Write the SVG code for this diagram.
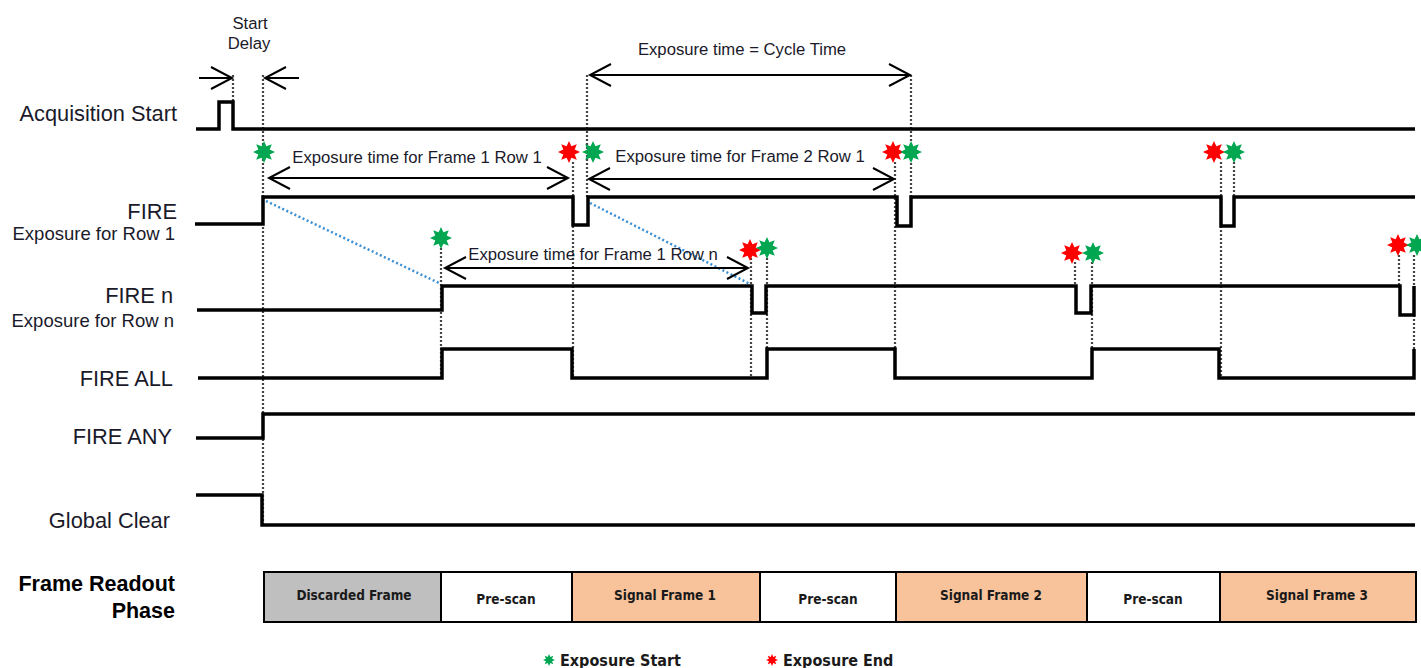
<svg xmlns="http://www.w3.org/2000/svg" width="1421" height="668" viewBox="0 0 1421 668">
<style>
.bg{fill:#ffffff}
.wave{fill:none;stroke:#000;stroke-width:3.5;stroke-linejoin:miter}
.dot{fill:none;stroke:#444;stroke-width:2.2;stroke-dasharray:2 2}
.blue{fill:none;stroke:#3a8fd4;stroke-width:2.5;stroke-dasharray:2 2.5}
.arr{fill:none;stroke:#000;stroke-width:2}
.lbl{font-family:"Liberation Sans",Arial,sans-serif;font-size:21.8px;fill:#1a1a2a}
.sub{font-family:"Liberation Sans",Arial,sans-serif;font-size:18.5px;fill:#1a1a2a}
.note{font-family:"Liberation Sans",Arial,sans-serif;font-size:16.7px;fill:#1a1a2a}
.bold{font-family:"Liberation Sans",Arial,sans-serif;font-size:21.5px;font-weight:bold;fill:#000}
.cell{stroke:#000;stroke-width:2}
.ct{font-family:"DejaVu Sans Condensed","DejaVu Sans",sans-serif;font-stretch:condensed;font-size:13.5px;font-weight:bold;fill:#1a1a1a;text-anchor:middle}
.leg{font-family:"DejaVu Sans Condensed","DejaVu Sans",sans-serif;font-stretch:condensed;font-size:16px;font-weight:bold;fill:#1a1a1a}
.g{fill:#00a650}
.r{fill:#ff0000}
</style>
<defs>
<marker id="ah" markerUnits="userSpaceOnUse" viewBox="-24 -14 26 28" markerWidth="26" markerHeight="28" refX="0" refY="0" orient="auto-start-reverse" overflow="visible">
<path d="M-21,-11 L0,0 L-21,11" fill="none" stroke="#000" stroke-width="2"/>
</marker>
<polygon id="star" points="0,-11 2.4,-5.7 7.8,-7.8 5.7,-2.4 11,0 5.7,2.4 7.8,7.8 2.4,5.7 0,11 -2.4,5.7 -7.8,7.8 -5.7,2.4 -11,0 -5.7,-2.4 -7.8,-7.8 -2.4,-5.7"/>
<polygon id="starS" points="0,-6 1.3,-3.1 4.2,-4.2 3.1,-1.3 6,0 3.1,1.3 4.2,4.2 1.3,3.1 0,6 -1.3,3.1 -4.2,4.2 -3.1,1.3 -6,0 -3.1,-1.3 -4.2,-4.2 -1.3,-3.1"/>
</defs>
<rect class="bg" x="0" y="0" width="1421" height="668"/>

<g id="labels">
<text class="note" x="250" y="29" text-anchor="middle" font-size="15.5">Start</text>
<text class="note" x="249" y="49" text-anchor="middle" font-size="15.5">Delay</text>
<text class="lbl" x="177" y="121" text-anchor="end">Acquisition Start</text>
<text class="lbl" x="177" y="219" text-anchor="end">FIRE</text>
<text class="sub" x="175" y="240" text-anchor="end">Exposure for Row 1</text>
<text class="lbl" x="173" y="303" text-anchor="end">FIRE n</text>
<text class="sub" x="174" y="327" text-anchor="end">Exposure for Row n</text>
<text class="lbl" x="173" y="386" text-anchor="end">FIRE ALL</text>
<text class="lbl" x="172" y="444" text-anchor="end">FIRE ANY</text>
<text class="lbl" x="170" y="528" text-anchor="end">Global Clear</text>
<text class="bold" x="175" y="591" text-anchor="end">Frame Readout</text>
<text class="bold" x="175" y="618" text-anchor="end">Phase</text>
</g>

<g id="connectors">
<line class="dot" x1="233" y1="75" x2="233" y2="102"/>
<line class="dot" x1="263" y1="75" x2="263" y2="525"/>
<line class="dot" x1="441" y1="248" x2="441" y2="378"/>
<line class="dot" x1="573" y1="162" x2="573" y2="378"/>
<line class="dot" x1="587" y1="75" x2="587" y2="197"/>
<line class="dot" x1="751" y1="258" x2="751" y2="378"/>
<line class="dot" x1="767" y1="258" x2="767" y2="349"/>
<line class="dot" x1="895" y1="162" x2="895" y2="378"/>
<line class="dot" x1="911" y1="75" x2="911" y2="197"/>
<line class="dot" x1="1075" y1="262" x2="1075" y2="286"/>
<line class="dot" x1="1092" y1="262" x2="1092" y2="349"/>
<line class="dot" x1="1221" y1="162" x2="1221" y2="378"/>
<line class="dot" x1="1234" y1="162" x2="1234" y2="197"/>
<line class="dot" x1="1399" y1="255" x2="1399" y2="286"/>
<line class="dot" x1="1414" y1="255" x2="1414" y2="349"/>
<line class="blue" x1="266" y1="201" x2="441" y2="284"/>
<line class="blue" x1="590" y1="203" x2="750" y2="284"/>
<line class="arr" x1="199" y1="78" x2="232" y2="78" marker-end="url(#ah)"/>
<line class="arr" x1="299" y1="78" x2="265" y2="78" marker-end="url(#ah)"/>
<line class="arr" x1="590" y1="75" x2="910" y2="75" marker-start="url(#ah)" marker-end="url(#ah)"/>
<line class="arr" x1="269" y1="178" x2="568" y2="178" marker-start="url(#ah)" marker-end="url(#ah)"/>
<line class="arr" x1="589" y1="179" x2="894" y2="179" marker-start="url(#ah)" marker-end="url(#ah)"/>
<line class="arr" x1="445" y1="268" x2="748" y2="268" marker-start="url(#ah)" marker-end="url(#ah)"/>
<text class="note" x="742" y="55" text-anchor="middle">Exposure time = Cycle Time</text>
<text class="note" x="417" y="163" text-anchor="middle">Exposure time for Frame 1 Row 1</text>
<text class="note" x="740" y="162" text-anchor="middle">Exposure time for Frame 2 Row 1</text>
<text class="note" x="593" y="260" text-anchor="middle">Exposure time for Frame 1 Row n</text>
</g>

<g id="waveforms">
<path id="acq" class="wave" d="M196,129 H219 V102 H233 V129 H1415"/>
<path id="fire" class="wave" d="M195,224 H263 V197 H573 V225 H588 V197 H897 V226 H911 V197 H1221 V226 H1234 V197 H1415"/>
<path id="firen" class="wave" d="M197,310 H442 V286 H752 V313 H766 V286 H1076 V313 H1091 V286 H1400 V315 H1414 V286"/>
<path id="fireall" class="wave" d="M198,378 H442 V349 H572 V378 H767 V349 H895 V378 H1092 V349 H1219 V378 H1414 V349"/>
<path id="fireany" class="wave" d="M196,438 H263 V414 H1415"/>
<path id="gclear" class="wave" d="M196,495 H262 V525 H1415"/>
</g>

<g id="stars">
<use href="#star" class="g" x="264" y="152"/>
<use href="#star" class="r" x="569" y="152"/>
<use href="#star" class="g" x="593" y="152"/>
<use href="#star" class="r" x="893" y="152"/>
<use href="#star" class="g" x="911" y="152"/>
<use href="#star" class="r" x="1214" y="152"/>
<use href="#star" class="g" x="1234" y="152"/>
<use href="#star" class="g" x="441" y="238"/>
<use href="#star" class="r" x="750" y="250"/>
<use href="#star" class="g" x="767" y="248"/>
<use href="#star" class="r" x="1072" y="253"/>
<use href="#star" class="g" x="1093" y="253"/>
<use href="#star" class="r" x="1398" y="245"/>
<use href="#star" class="g" x="1417" y="245"/>
</g>

<g id="readout">
<rect class="cell" x="264" y="572" width="177" height="50" fill="#bfbfbf"/>
<rect class="cell" x="441" y="572" width="131" height="50" fill="#ffffff"/>
<rect class="cell" x="572" y="572" width="188" height="50" fill="#f8c39a"/>
<rect class="cell" x="760" y="572" width="136" height="50" fill="#ffffff"/>
<rect class="cell" x="896" y="572" width="191" height="50" fill="#f8c39a"/>
<rect class="cell" x="1087" y="572" width="133" height="50" fill="#ffffff"/>
<rect class="cell" x="1220" y="572" width="196" height="50" fill="#f8c39a"/>
<text class="ct" x="354" y="600">Discarded Frame</text>
<text class="ct" x="506" y="604">Pre-scan</text>
<text class="ct" x="665" y="600">Signal Frame 1</text>
<text class="ct" x="828" y="604">Pre-scan</text>
<text class="ct" x="991" y="600">Signal Frame 2</text>
<text class="ct" x="1153" y="604">Pre-scan</text>
<text class="ct" x="1317" y="600">Signal Frame 3</text>
</g>

<g id="legend">
<use href="#starS" class="g" x="549" y="660"/>
<text class="leg" x="560" y="666">Exposure Start</text>
<use href="#starS" class="r" x="772" y="660"/>
<text class="leg" x="783" y="666">Exposure End</text>
</g>
</svg>
